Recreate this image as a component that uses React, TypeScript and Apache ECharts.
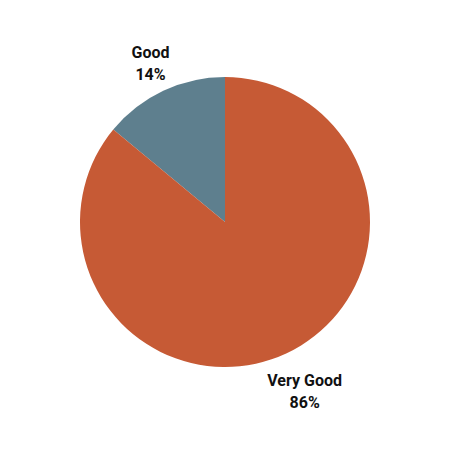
import React, { useEffect, useRef } from "react";
import * as echarts from "echarts";

const categories = ["Good", "Very Good"];
const shares = [14, 86];
const colors = ["#5E7F8E", "#C65A35"];

export default function App() {
  const ref = useRef<HTMLDivElement>(null);
  useEffect(() => {
    document.body.style.margin = "0";
    if (!ref.current) return;
    const chart = echarts.init(ref.current, null, { renderer: "svg" });
    chart.setOption({
      animation: false,
      backgroundColor: "#ffffff",
      series: [
        {
          type: "pie",
          center: [225, 222],
          radius: [0, 145],
          startAngle: 90,
          clockwise: false,
          data: categories.map((c, i) => ({
            name: c,
            value: shares[i],
            itemStyle: { color: colors[i] },
            labelLine: { show: false, length: i === 0 ? 30 : 42, length2: 0 },
          })),
          label: {
            show: true,
            position: "outside",
            formatter: (p: any) => `${p.name}\n${p.value}%`,
            fontFamily: "Roboto, 'Liberation Sans', sans-serif",
            fontWeight: "bold",
            fontSize: 16,
            lineHeight: 22,
            color: "#111111",
          },
          labelLayout: (p: any) => ({
            align: "center",
            verticalAlign: "middle",
            dx: p.dataIndex === 0 ? 5 : -5,
          }),
          emphasis: { disabled: true },
        },
      ],
    });
    return () => chart.dispose();
  }, []);
  return <div ref={ref} style={{ width: 450, height: 450 }} />;
}
